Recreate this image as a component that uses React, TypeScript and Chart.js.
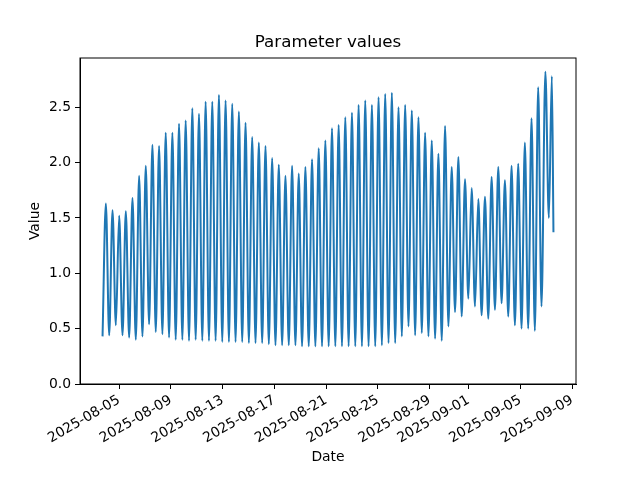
import { useEffect, useRef } from "react";
import { Chart, registerables } from "chart.js";

Chart.register(...registerables);

// high / low water readings
const times = [
  "2025-08-03T17:20", "2025-08-03T23:30", "2025-08-04T05:40", "2025-08-04T11:50", "2025-08-04T18:00",
  "2025-08-05T00:10", "2025-08-05T06:20", "2025-08-05T12:30", "2025-08-05T18:40", "2025-08-06T00:50",
  "2025-08-06T07:00", "2025-08-06T13:10", "2025-08-06T19:20", "2025-08-07T01:30", "2025-08-07T07:40",
  "2025-08-07T13:50", "2025-08-07T20:00", "2025-08-08T02:10", "2025-08-08T08:20", "2025-08-08T14:30",
  "2025-08-08T20:40", "2025-08-09T02:50", "2025-08-09T09:00", "2025-08-09T15:10", "2025-08-09T21:20",
  "2025-08-10T03:30", "2025-08-10T09:40", "2025-08-10T15:50", "2025-08-10T22:00", "2025-08-11T04:10",
  "2025-08-11T10:20", "2025-08-11T16:30", "2025-08-11T22:40", "2025-08-12T04:50", "2025-08-12T11:00",
  "2025-08-12T17:10", "2025-08-12T23:20", "2025-08-13T05:30", "2025-08-13T11:40", "2025-08-13T17:50",
  "2025-08-14T00:00", "2025-08-14T06:10", "2025-08-14T12:20", "2025-08-14T18:30", "2025-08-15T00:40",
  "2025-08-15T06:50", "2025-08-15T13:00", "2025-08-15T19:10", "2025-08-16T01:20", "2025-08-16T07:30",
  "2025-08-16T13:40", "2025-08-16T19:50", "2025-08-17T02:00", "2025-08-17T08:10", "2025-08-17T14:20",
  "2025-08-17T20:30", "2025-08-18T02:40", "2025-08-18T08:50", "2025-08-18T15:00", "2025-08-18T21:10",
  "2025-08-19T03:20", "2025-08-19T09:30", "2025-08-19T15:40", "2025-08-19T21:50", "2025-08-20T04:00",
  "2025-08-20T10:10", "2025-08-20T16:20", "2025-08-20T22:30", "2025-08-21T04:40", "2025-08-21T10:50",
  "2025-08-21T17:00", "2025-08-21T23:10", "2025-08-22T05:20", "2025-08-22T11:30", "2025-08-22T17:40",
  "2025-08-22T23:50", "2025-08-23T06:00", "2025-08-23T12:10", "2025-08-23T18:20", "2025-08-24T00:30",
  "2025-08-24T06:40", "2025-08-24T12:50", "2025-08-24T19:00", "2025-08-25T01:10", "2025-08-25T07:20",
  "2025-08-25T13:30", "2025-08-25T19:40", "2025-08-26T01:50", "2025-08-26T08:00", "2025-08-26T14:10",
  "2025-08-26T20:20", "2025-08-27T02:30", "2025-08-27T08:40", "2025-08-27T14:50", "2025-08-27T21:00",
  "2025-08-28T03:10", "2025-08-28T09:20", "2025-08-28T15:30", "2025-08-28T21:40", "2025-08-29T03:50",
  "2025-08-29T10:00", "2025-08-29T16:10", "2025-08-29T22:20", "2025-08-30T04:30", "2025-08-30T10:40",
  "2025-08-30T16:50", "2025-08-30T23:00", "2025-08-31T05:10", "2025-08-31T11:20", "2025-08-31T17:30",
  "2025-08-31T23:40", "2025-09-01T05:50", "2025-09-01T12:00", "2025-09-01T18:10", "2025-09-02T00:20",
  "2025-09-02T06:30", "2025-09-02T12:40", "2025-09-02T18:50", "2025-09-03T01:00", "2025-09-03T07:10",
  "2025-09-03T13:20", "2025-09-03T19:30", "2025-09-04T01:40", "2025-09-04T07:50", "2025-09-04T14:00",
  "2025-09-04T20:10", "2025-09-05T02:20", "2025-09-05T08:30", "2025-09-05T14:40", "2025-09-05T20:50",
  "2025-09-06T03:00", "2025-09-06T09:10", "2025-09-06T15:20", "2025-09-06T22:30", "2025-09-07T05:00",
  "2025-09-07T10:30", "2025-09-07T13:30",
];

const levels = [
  0.43, 1.63, 0.44, 1.57, 0.53, 1.52, 0.44, 1.56, 0.42, 1.68,
  0.40, 1.88, 0.43, 1.97, 0.54, 2.16, 0.47, 2.15, 0.45, 2.27,
  0.42, 2.27, 0.40, 2.35, 0.40, 2.38, 0.39, 2.49, 0.40, 2.44,
  0.39, 2.55, 0.39, 2.55, 0.39, 2.61, 0.38, 2.56, 0.38, 2.53,
  0.38, 2.46, 0.38, 2.36, 0.37, 2.23, 0.37, 2.18, 0.37, 2.15,
  0.36, 2.04, 0.35, 1.98, 0.35, 1.88, 0.35, 1.97, 0.35, 1.90,
  0.34, 1.96, 0.34, 2.03, 0.34, 2.13, 0.34, 2.20, 0.34, 2.31,
  0.34, 2.34, 0.34, 2.41, 0.34, 2.45, 0.34, 2.52, 0.34, 2.56,
  0.34, 2.52, 0.34, 2.59, 0.35, 2.62, 0.37, 2.63, 0.37, 2.50,
  0.43, 2.52, 0.52, 2.47, 0.44, 2.41, 0.46, 2.27, 0.43, 2.20,
  0.41, 2.08, 0.39, 2.33, 0.52, 1.96, 0.65, 2.05, 0.61, 1.85,
  0.77, 1.77, 0.70, 1.67, 0.62, 1.69, 0.59, 1.87, 0.67, 1.96,
  0.73, 1.84, 0.61, 1.97, 0.53, 1.99, 0.50, 2.18, 0.50, 2.40,
  0.48, 2.68, 0.70, 2.82, 1.50, 2.78, 1.37,
];

const xTickDates = [
  "2025-08-05", "2025-08-09", "2025-08-13", "2025-08-17", "2025-08-21",
  "2025-08-25", "2025-08-29", "2025-09-01", "2025-09-05", "2025-09-09",
];
const yTicks = [0, 0.5, 1, 1.5, 2, 2.5];

const toMs = (s: string) => Date.parse(s.length === 10 ? s + "T00:00:00Z" : s + ":00Z");

const FONT = "'DejaVu Sans', sans-serif";

const decorations = {
  id: "decorations",
  afterDraw(chart: any) {
    const { ctx, chartArea: a } = chart;
    const cx = (a.left + a.right) / 2;
    ctx.save();
    ctx.strokeStyle = "#000";
    ctx.lineWidth = 1;
    ctx.strokeRect(a.left, a.top, a.right - a.left, a.bottom - a.top);
    ctx.fillStyle = "#000";
    ctx.textAlign = "center";
    ctx.textBaseline = "middle";
    ctx.font = `16.7px ${FONT}`;
    ctx.fillText("Parameter values", cx, 43);
    ctx.font = `13.9px ${FONT}`;
    ctx.fillText("Date", cx, 457);
    ctx.translate(35, (a.top + a.bottom) / 2);
    ctx.rotate(-Math.PI / 2);
    ctx.fillText("Value", 0, 0);
    ctx.restore();
  },
};

const LevelChart = () => {
  const canvasRef = useRef<HTMLCanvasElement>(null);

  useEffect(() => {
    if (!canvasRef.current) return;
    const xs = times.map(toMs);
    const first = xs[0];
    const last = xs[xs.length - 1];
    const xPad = (last - first) * 0.05;
    const yMin = Math.min(...levels);
    const yMax = Math.max(...levels);

    const chart = new Chart(canvasRef.current, {
      type: "line",
      data: {
        datasets: [
          {
            data: xs.map((x, i) => ({ x, y: levels[i] })),
            borderColor: "#1f77b4",
            borderWidth: 2,
            pointRadius: 0,
            fill: false,
            cubicInterpolationMode: "monotone",
          },
        ],
      },
      options: {
        responsive: false,
        animation: false,
        layout: { padding: { left: 0, right: 64, top: 58, bottom: 0 } },
        plugins: {
          legend: { display: false },
          tooltip: { enabled: false },
          title: { display: false },
        },
        scales: {
          x: {
            type: "linear",
            min: first - xPad,
            max: last + xPad,
            afterBuildTicks: (s: any) => {
              s.ticks = xTickDates.map((d) => ({ value: toMs(d) }));
            },
            afterFit: (s: any) => {
              s.height = 96;
            },
            ticks: {
              autoSkip: false,
              minRotation: 30,
              maxRotation: 30,
              padding: 3,
              color: "#000",
              font: { family: FONT, size: 13.9 },
              callback: (_v: any, i: number) => xTickDates[i],
            },
            grid: { display: true, drawOnChartArea: false, drawTicks: true, tickLength: 5, color: "#000" },
            border: { display: true, color: "#000" },
          },
          y: {
            type: "linear",
            min: 0,
            max: yMax + (yMax - yMin) * 0.05,
            afterBuildTicks: (s: any) => {
              s.ticks = yTicks.map((v) => ({ value: v }));
            },
            afterFit: (s: any) => {
              s.width = 80;
            },
            ticks: {
              padding: 4,
              color: "#000",
              font: { family: FONT, size: 13.9 },
              callback: (v: any) => Number(v).toFixed(1),
            },
            grid: { display: true, drawOnChartArea: false, drawTicks: true, tickLength: 5, color: "#000" },
            border: { display: true, color: "#000" },
          },
        },
      },
      plugins: [decorations],
    });

    return () => {
      chart.destroy();
    };
  }, []);

  return <canvas ref={canvasRef} width={640} height={480} />;
};

export default function App() {
  return (
    <div style={{ position: "fixed", left: 0, top: 0, width: 640, height: 480, background: "#fff" }}>
      <LevelChart />
    </div>
  );
}
